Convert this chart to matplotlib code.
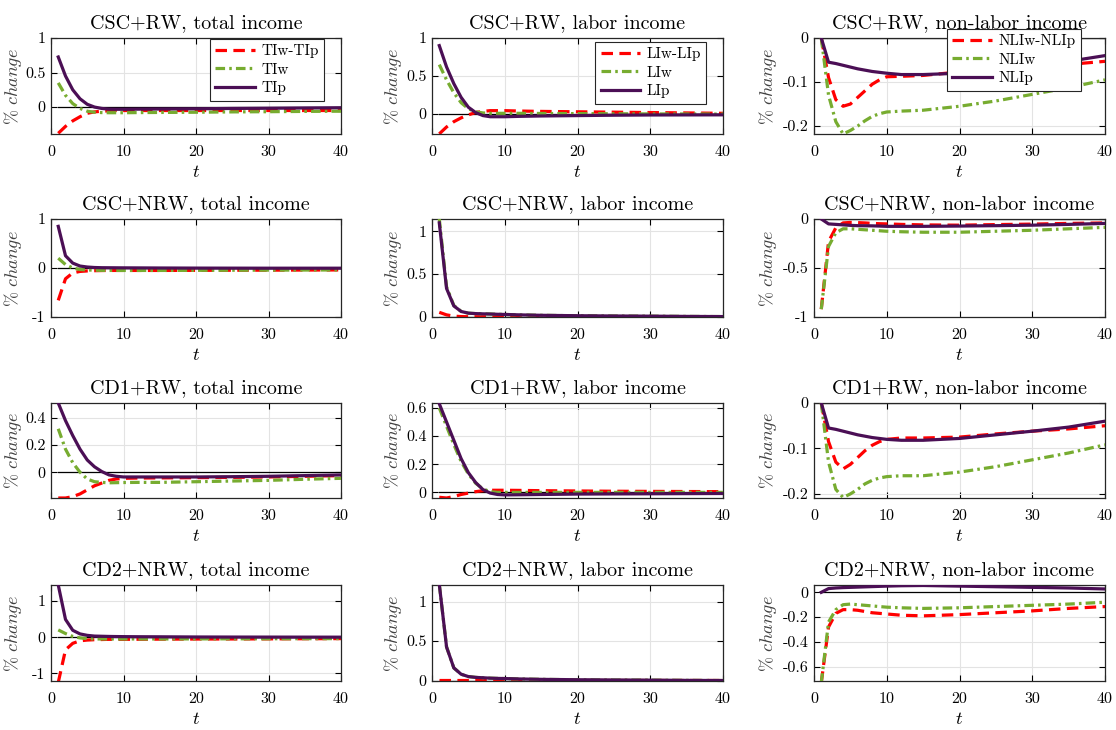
import matplotlib
matplotlib.use("Agg")
import matplotlib.pyplot as plt
from matplotlib.ticker import FuncFormatter

plt.rcParams['font.family'] = ['cmr10', 'DejaVu Serif']
plt.rcParams['mathtext.fontset'] = 'cm'
plt.rcParams['axes.unicode_minus'] = False
plt.rcParams['axes.formatter.use_mathtext'] = False

# time grid (quarters)
t = [1, 2, 3, 4, 5, 6, 7, 8, 9, 10, 12, 15, 20, 25, 30, 35, 40]

# ---------------- Row 1: CSC+RW ----------------
csc_rw_TI_diff = [-0.38, -0.28, -0.20, -0.14, -0.09, -0.07, -0.06, -0.055, -0.05, -0.05, -0.05, -0.05, -0.05, -0.05, -0.05, -0.05, -0.05]
csc_rw_TIw     = [0.35, 0.17, 0.05, -0.02, -0.06, -0.075, -0.08, -0.082, -0.082, -0.082, -0.08, -0.078, -0.075, -0.07, -0.067, -0.063, -0.06]
csc_rw_TIp     = [0.725, 0.45, 0.25, 0.12, 0.04, 0.0, -0.02, -0.03, -0.032, -0.032, -0.03, -0.028, -0.025, -0.02, -0.017, -0.013, -0.01]

csc_rw_LI_diff = [-0.26, -0.17, -0.10, -0.05, -0.01, 0.02, 0.035, 0.045, 0.045, 0.045, 0.04, 0.035, 0.03, 0.025, 0.02, 0.015, 0.01]
csc_rw_LIw     = [0.65, 0.45, 0.28, 0.15, 0.07, 0.03, 0.015, 0.01, 0.01, 0.01, 0.01, 0.008, 0.006, 0.004, 0.002, 0.001, 0.0]
csc_rw_LIp     = [0.90, 0.62, 0.40, 0.22, 0.09, 0.02, -0.02, -0.035, -0.035, -0.035, -0.03, -0.025, -0.02, -0.015, -0.012, -0.011, -0.01]

csc_rw_NLI_diff = [0.0, -0.09, -0.14, -0.155, -0.15, -0.135, -0.12, -0.105, -0.095, -0.088, -0.087, -0.085, -0.077, -0.072, -0.066, -0.06, -0.053]
csc_rw_NLIw     = [0.0, -0.13, -0.19, -0.218, -0.21, -0.20, -0.188, -0.178, -0.172, -0.168, -0.166, -0.164, -0.155, -0.143, -0.128, -0.113, -0.095]
csc_rw_NLIp     = [0.0, -0.055, -0.058, -0.062, -0.066, -0.07, -0.073, -0.076, -0.078, -0.08, -0.083, -0.083, -0.08, -0.072, -0.063, -0.053, -0.04]

# ---------------- Row 2: CSC+NRW ----------------
csc_nrw_TI_diff = [-0.66, -0.22, -0.10, -0.07, -0.06, -0.055, -0.052, -0.05, -0.05, -0.05, -0.05, -0.05, -0.048, -0.046, -0.044, -0.042, -0.04]
csc_nrw_TIw     = [0.20, 0.07, 0.0, -0.03, -0.04, -0.045, -0.048, -0.05, -0.05, -0.05, -0.05, -0.05, -0.048, -0.046, -0.044, -0.042, -0.04]
csc_nrw_TIp     = [0.85, 0.25, 0.10, 0.04, 0.02, 0.01, 0.006, 0.005, 0.004, 0.003, 0.002, 0.0, -0.002, -0.003, -0.004, -0.004, -0.004]

csc_nrw_LI_diff = [0.05, 0.02, 0.005, 0.0, -0.002, -0.002, -0.002, -0.002, -0.002, -0.002, -0.002, -0.002, -0.002, -0.002, -0.001, -0.001, -0.001]
csc_nrw_LIw     = [1.15, 0.35, 0.13, 0.062, 0.04, 0.035, 0.032, 0.03, 0.027, 0.025, 0.02, 0.015, 0.01, 0.007, 0.005, 0.002, 0.0]
csc_nrw_LIp     = [1.10, 0.33, 0.125, 0.06, 0.04, 0.035, 0.032, 0.03, 0.027, 0.025, 0.02, 0.015, 0.01, 0.007, 0.005, 0.002, 0.0]

csc_nrw_NLI_diff = [-0.92, -0.23, -0.09, -0.04, -0.035, -0.037, -0.04, -0.045, -0.048, -0.05, -0.055, -0.06, -0.063, -0.057, -0.052, -0.045, -0.04]
csc_nrw_NLIw     = [-0.92, -0.28, -0.14, -0.10, -0.10, -0.105, -0.11, -0.115, -0.12, -0.125, -0.13, -0.135, -0.135, -0.125, -0.115, -0.10, -0.085]
csc_nrw_NLIp     = [0.0, -0.05, -0.055, -0.06, -0.065, -0.068, -0.069, -0.07, -0.072, -0.075, -0.075, -0.075, -0.072, -0.068, -0.063, -0.055, -0.045]

# ---------------- Row 3: CD1+RW ----------------
cd1_rw_TI_diff = [-0.19, -0.19, -0.18, -0.16, -0.13, -0.10, -0.08, -0.06, -0.05, -0.045, -0.043, -0.042, -0.04, -0.038, -0.035, -0.03, -0.025]
cd1_rw_TIw     = [0.32, 0.17, 0.07, 0.0, -0.05, -0.07, -0.075, -0.078, -0.077, -0.076, -0.075, -0.075, -0.07, -0.065, -0.06, -0.052, -0.045]
cd1_rw_TIp     = [0.51, 0.38, 0.27, 0.17, 0.09, 0.04, 0.005, -0.02, -0.03, -0.035, -0.035, -0.035, -0.035, -0.033, -0.03, -0.025, -0.02]

cd1_rw_LI_diff = [-0.035, -0.04, -0.03, -0.015, -0.005, 0.005, 0.012, 0.015, 0.015, 0.015, 0.014, 0.012, 0.01, 0.008, 0.007, 0.006, 0.005]
cd1_rw_LIw     = [0.60, 0.47, 0.34, 0.22, 0.13, 0.065, 0.025, 0.005, 0.0, 0.0, 0.0, 0.0, 0.0, 0.0, 0.0, 0.0, 0.0]
cd1_rw_LIp     = [0.63, 0.50, 0.37, 0.24, 0.14, 0.07, 0.02, -0.005, -0.015, -0.018, -0.017, -0.015, -0.012, -0.011, -0.01, -0.009, -0.008]

cd1_rw_NLI_diff = [0.0, -0.085, -0.13, -0.145, -0.135, -0.12, -0.105, -0.093, -0.085, -0.08, -0.077, -0.077, -0.075, -0.068, -0.062, -0.057, -0.05]
cd1_rw_NLIw     = [0.0, -0.13, -0.19, -0.208, -0.20, -0.19, -0.178, -0.17, -0.165, -0.162, -0.16, -0.16, -0.152, -0.14, -0.125, -0.11, -0.092]
cd1_rw_NLIp     = [0.0, -0.055, -0.058, -0.062, -0.066, -0.07, -0.073, -0.076, -0.078, -0.08, -0.082, -0.082, -0.078, -0.07, -0.062, -0.053, -0.04]

# ---------------- Row 4: CD2+NRW ----------------
cd2_nrw_TI_diff = [-1.25, -0.35, -0.17, -0.10, -0.08, -0.07, -0.065, -0.06, -0.06, -0.06, -0.058, -0.055, -0.052, -0.05, -0.047, -0.043, -0.04]
cd2_nrw_TIw     = [0.20, 0.10, 0.02, -0.02, -0.04, -0.05, -0.05, -0.05, -0.05, -0.05, -0.05, -0.05, -0.048, -0.046, -0.044, -0.042, -0.04]
cd2_nrw_TIp     = [1.44, 0.49, 0.19, 0.09, 0.05, 0.03, 0.025, 0.02, 0.017, 0.015, 0.012, 0.01, 0.005, 0.003, 0.002, 0.001, 0.0]

cd2_nrw_LI_diff = [0.002, 0.002, 0.002, 0.002, 0.002, 0.002, 0.002, 0.002, 0.002, 0.002, 0.002, 0.002, 0.002, 0.002, 0.002, 0.002, 0.002]
cd2_nrw_LIw     = [1.22, 0.425, 0.16, 0.08, 0.05, 0.04, 0.035, 0.03, 0.027, 0.025, 0.02, 0.015, 0.01, 0.007, 0.005, 0.002, 0.0]
cd2_nrw_LIp     = [1.22, 0.425, 0.16, 0.08, 0.05, 0.04, 0.035, 0.03, 0.027, 0.025, 0.02, 0.015, 0.01, 0.007, 0.005, 0.002, 0.0]

cd2_nrw_NLI_diff = [-0.73, -0.28, -0.17, -0.14, -0.14, -0.145, -0.155, -0.165, -0.17, -0.175, -0.185, -0.19, -0.18, -0.165, -0.15, -0.13, -0.115]
cd2_nrw_NLIw     = [-0.73, -0.24, -0.14, -0.10, -0.095, -0.10, -0.105, -0.11, -0.115, -0.12, -0.125, -0.13, -0.125, -0.115, -0.105, -0.095, -0.08]
cd2_nrw_NLIp     = [0.0, 0.03, 0.035, 0.038, 0.04, 0.042, 0.044, 0.046, 0.048, 0.05, 0.053, 0.055, 0.05, 0.045, 0.04, 0.035, 0.027]

titles = [
    ["CSC+RW, total income", "CSC+RW, labor income", "CSC+RW, non-labor income"],
    ["CSC+NRW, total income", "CSC+NRW, labor income", "CSC+NRW, non-labor income"],
    ["CD1+RW, total income", "CD1+RW, labor income", "CD1+RW, non-labor income"],
    ["CD2+NRW, total income", "CD2+NRW, labor income", "CD2+NRW, non-labor income"],
]
legend_labels = [
    ["TIw-TIp", "TIw", "TIp"],
    ["LIw-LIp", "LIw", "LIp"],
    ["NLIw-NLIp", "NLIw", "NLIp"],
]
data = [
    [(csc_rw_TI_diff, csc_rw_TIw, csc_rw_TIp), (csc_rw_LI_diff, csc_rw_LIw, csc_rw_LIp), (csc_rw_NLI_diff, csc_rw_NLIw, csc_rw_NLIp)],
    [(csc_nrw_TI_diff, csc_nrw_TIw, csc_nrw_TIp), (csc_nrw_LI_diff, csc_nrw_LIw, csc_nrw_LIp), (csc_nrw_NLI_diff, csc_nrw_NLIw, csc_nrw_NLIp)],
    [(cd1_rw_TI_diff, cd1_rw_TIw, cd1_rw_TIp), (cd1_rw_LI_diff, cd1_rw_LIw, cd1_rw_LIp), (cd1_rw_NLI_diff, cd1_rw_NLIw, cd1_rw_NLIp)],
    [(cd2_nrw_TI_diff, cd2_nrw_TIw, cd2_nrw_TIp), (cd2_nrw_LI_diff, cd2_nrw_LIw, cd2_nrw_LIp), (cd2_nrw_NLI_diff, cd2_nrw_NLIw, cd2_nrw_NLIp)],
]
ylims = [
    [(-0.39, 1.0), (-0.262, 1.0), (-0.218, 0.0)],
    [(-1.0, 1.0), (-0.005, 1.145), (-1.0, 0.0)],
    [(-0.19, 0.51), (-0.04, 0.635), (-0.209, 0.0)],
    [(-1.21, 1.44), (-0.006, 1.21), (-0.716, 0.059)],
]
yticks = [
    [[0, 0.5, 1], [0, 0.5, 1], [-0.2, -0.1, 0]],
    [[-1, 0, 1], [0, 0.5, 1], [-1, -0.5, 0]],
    [[0, 0.2, 0.4], [0, 0.2, 0.4, 0.6], [-0.2, -0.1, 0]],
    [[-1, 0, 1], [0, 0.5, 1], [-0.6, -0.4, -0.2, 0]],
]

W, H = 1116, 730
fig = plt.figure(figsize=(W / 100, H / 100), dpi=100)
fig.patch.set_facecolor('white')

col_x = [(51, 341), (432, 723), (814, 1105)]
row_y = [(38, 134), (219, 317), (403, 498), (585, 681)]
ylabel_x = [-0.092, -0.095, -0.12]

red = '#ff0000'
green = '#77ac30'
purple = '#4b0f55'

fmt = FuncFormatter(lambda v, p: '0' if abs(v) < 1e-12 else f'{v:g}')

leg_anchor = [(0.941, 0.99), (0.942, 0.958), (0.457, 1.094)]
leg_loc = ['upper right', 'upper right', 'upper left']

for r in range(4):
    for c in range(3):
        x0, x1 = col_x[c]
        y0, y1 = row_y[r]
        ax = fig.add_axes([x0 / W, 1 - y1 / H, (x1 - x0) / W, (y1 - y0) / H])
        d, w, p = data[r][c]
        ax.plot([t[0], t[-1]], [0, 0], color='black', lw=0.9, zorder=1)
        l1, = ax.plot(t, d, color=red, lw=2.3, linestyle=(0, (3.6, 2.0)), zorder=2)
        l2, = ax.plot(t, w, color=green, lw=2.3, linestyle=(0, (3.0, 1.3, 0.8, 1.3)), zorder=3)
        l3, = ax.plot(t, p, color=purple, lw=2.3, zorder=4)
        ax.set_xlim(0, 40)
        ax.set_ylim(*ylims[r][c])
        ax.set_xticks([0, 10, 20, 30, 40])
        ax.set_yticks(yticks[r][c])
        ax.yaxis.set_major_formatter(fmt)
        ax.grid(True, color='#e3e3e3', lw=0.8)
        ax.set_axisbelow(True)
        ax.tick_params(direction='in', top=True, right=True, labelsize=11.5,
                       length=4, width=0.8)
        ax.tick_params(axis='x', pad=8)
        ax.tick_params(axis='y', pad=4)
        for s in ax.spines.values():
            s.set_linewidth(0.9)
            s.set_color('#262626')
        ax.set_title(titles[r][c], fontsize=14.5, pad=7)
        ax.set_xlabel(r'$t$', fontsize=13.5, labelpad=3)
        ax.set_ylabel(r'$\%\ change$', fontsize=13, color='#404040')
        ax.yaxis.set_label_coords(ylabel_x[c], 0.5)
        if r == 0:
            leg = ax.legend([l1, l2, l3], legend_labels[c], loc=leg_loc[c],
                            bbox_to_anchor=leg_anchor[c], fontsize=11,
                            frameon=True, fancybox=False, framealpha=1,
                            edgecolor='#262626', handlelength=2.6,
                            borderpad=0.35, labelspacing=0.3, handletextpad=0.4,
                            borderaxespad=0)
            leg.get_frame().set_linewidth(0.8)

fig.savefig('out.png', dpi=100)
